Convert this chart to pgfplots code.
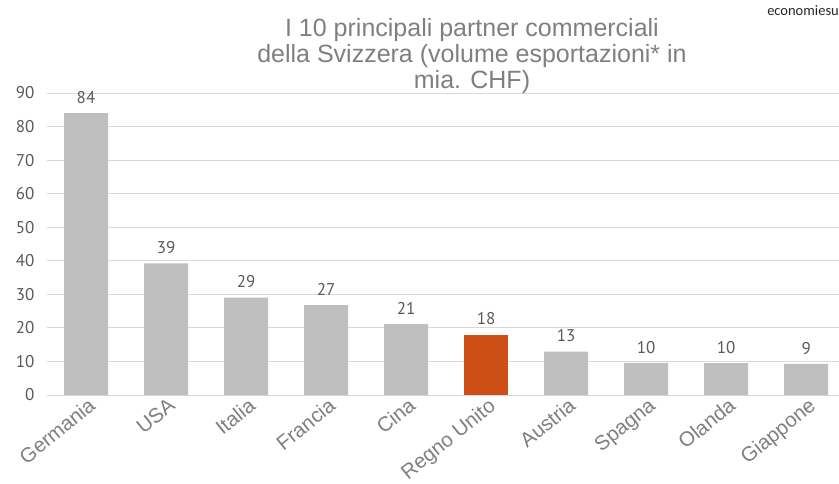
\documentclass[border=0pt]{standalone}
\usepackage{fontspec}
\setmainfont{Liberation Sans}
\newfontfamily\numfont{PT Sans}
\newfontfamily\logofont{Carlito}
\usepackage{pgfplots}
\pgfplotsset{compat=1.18}
\definecolor{bargrey}{HTML}{BFBFBF}
\definecolor{hl}{HTML}{CD4F16}
\definecolor{gridc}{HTML}{D9D9D9}
\definecolor{txt}{HTML}{595959}
\definecolor{ttl}{HTML}{7F7F7F}
\begin{document}
\begin{tikzpicture}[x=1pt,y=1pt]
\path[use as bounding box] (0,0) rectangle (839,483);
\begin{axis}[
  at={(47pt,88pt)}, anchor=south west,
  scale only axis, width=792pt, height=302pt,
  xmin=-0.4875, xmax=9.41, ymin=0, ymax=90,
  ytick={0,10,...,90},
  ymajorgrids, grid style={gridc, line width=0.9pt},
  axis x line*=bottom, axis y line*=left,
  x axis line style={gridc, line width=1pt, -},
  y axis line style={draw=none},
  major tick length=0pt,
  xtick={0,...,9},
  xticklabels={Germania,USA,Italia,Francia,Cina,Regno Unito,Austria,Spagna,Olanda,Giappone},
  xticklabel style={rotate=39, anchor=north east, font=\fontsize{20.5}{20.5}\selectfont, text=ttl, inner sep=1pt, yshift=-1pt, xshift=1pt},
  yticklabel style={font=\numfont\fontsize{17}{17}\selectfont, text=txt, xshift=-9pt},
  /pgf/number format/assume math mode=true,
  ybar, bar width=44pt,
  point meta=explicit symbolic,
  nodes near coords,
  every node near coord/.append style={font=\numfont\fontsize{17}{17}\selectfont, text=txt, anchor=south, yshift=6pt},
  clip=false,
]
\addplot[fill=bargrey, draw=none, bar shift=0pt] coordinates {
  (0,84.0) [84]
  (1,39.2) [39]
  (2,29.0) [29]
  (3,26.8) [27]
  (4,21.1) [21]
  (6,12.9) [13]
  (7,9.6) [10]
  (8,9.5) [10]
  (9,9.3) [9]
};
\addplot[fill=hl, draw=none, bar shift=0pt] coordinates {
  (5,18.0) [18]
};
\end{axis}
\begin{scope}[every node/.style={text=ttl, font=\fontsize{25}{26}\selectfont, anchor=base, inner sep=0pt}]
\node at (472,446) {I 10 principali partner commerciali};
\node at (472,420) {della Svizzera (volume esportazioni* in};
\node at (472,394) {mia. CHF)};
\end{scope}
\node[font=\logofont\fontsize{14.5}{14.5}\selectfont, text=black!85, anchor=base east, inner sep=0pt] at (839,467) {economiesu};
\end{tikzpicture}
\end{document}
